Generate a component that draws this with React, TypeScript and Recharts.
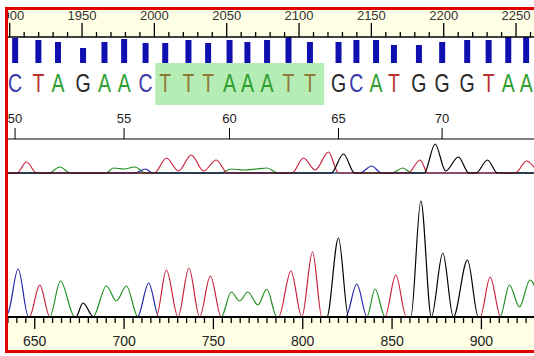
import React from 'react'
import { ComposedChart, Bar, Line, XAxis, YAxis, ReferenceArea, LabelList } from 'recharts'

// base calls, scan position of each call, quality bar height
const bases = ['C', 'T', 'A', 'G', 'A', 'A', 'C', 'T', 'T', 'T', 'A', 'A', 'A', 'T', 'T', 'G', 'C', 'A', 'T', 'G', 'G', 'G', 'T', 'A', 'A']
const baseScan = [639, 652, 663, 677, 689, 700, 712, 723, 736, 747, 759, 769, 780, 792, 804, 820, 830, 841, 851, 865, 878, 892, 904, 915, 925]
const quality = [25, 23, 21, 15, 21, 24, 20, 20, 23, 20, 23, 21, 23, 26, 21, 21, 23, 23, 18, 18, 21, 23, 23, 26, 26]
const firstBase = 50
const hlFirst = 7
const hlLast = 14

const rulerLabels = [1900, 1950, 2000, 2050, 2100, 2150, 2200, 2250]
const scanLabels = [650, 700, 750, 800, 850, 900]

// main trace: [scan, signal]
const mainA = [[630, 0], [658.4, 0], [664.4, 36], [672.4, 0], [682.6, 0], [690.1, 31], [695.7, 16], [701.3, 31], [707.8, 0], [754.4, 0], [760, 25], [764.7, 16], [769.3, 25], [774.9, 12], [779.9, 28], [785.5, 0], [835.9, 0], [840.5, 28], [846.1, 0], [910.4, 0], [915.7, 32], [921.3, 10], [927.2, 37], [932, 20]]
const mainC = [[630, 0], [635, 4], [640.7, 48], [646.5, 0], [707.5, 0], [713.8, 34], [719.5, 0], [824, 0], [830.3, 33], [836, 0], [930, 0]]
const mainG = [[630, 0], [673, 0], [677, 14], [683, 0], [813.5, 0], [820, 79], [825.6, 0], [860.5, 0], [866.1, 116], [872, 0], [878.4, 64], [884.3, 0], [892.2, 57], [898.3, 0], [930, 0]]
const mainT = [[630, 0], [647, 0], [652.8, 32], [658.5, 0], [718, 0], [723.7, 47], [730.2, 0], [736.3, 49], [742.3, 0], [748.3, 41], [754.4, 0], [786.5, 0], [793.4, 46], [799.5, 0], [805.5, 65], [810.7, 0], [846, 0], [852.1, 42], [858, 0], [899.3, 0], [904.9, 40], [910.8, 0], [930, 0]]

// small reference trace
const refA = [[630, 0], [658, 0], [664, 6], [670, 0], [690, 0], [694, 5], [700, 4], [706, 6], [712, 0], [754, 0], [760, 4], [767, 3], [774, 4], [780, 5], [786, 0], [850, 0], [856, 5], [861, 0], [930, 0]]
const refC = [[630, 0], [706, 0], [712, 4], [716, 0], [832, 0], [838.6, 7], [844, 0], [930, 0]]
const refG = [[630, 0], [816, 0], [822.8, 19], [829, 0], [868, 0], [874.1, 29], [880, 2], [887.1, 16], [893, 0], [897, 0], [903.4, 13], [909, 0], [930, 0]]
const refT = [[630, 0], [640, 0], [645.4, 11], [651, 0], [717, 0], [723.7, 15], [730.5, 2], [737.6, 18], [744.5, 2], [751.6, 13], [758, 0], [794, 0], [800.4, 15], [807, 3], [814.4, 21], [820, 0], [859, 0], [865.7, 13], [870, 0], [919, 0], [925.3, 12], [931, 2]]

const traceColor: Record<string, string> = { A: '#209020', C: '#2424B0', G: '#000000', T: '#C8203C' }
const letterColor: Record<string, string> = { A: '#2E9E2E', C: '#3A3AA8', G: '#2A2A2A', T: '#B83232' }
// letters seen through the green selection
const letterColorSel: Record<string, string> = { A: '#2E9E2E', C: '#3A3AA8', G: '#2A2A2A', T: '#8E7A36' }

const pts = (arr: number[][]) => arr.map(([s, v]) => ({ s, v }))
const barData = baseScan.map((s, i) => ({ s, q: quality[i], b: bases[i] }))

const rulerTicks: number[] = []
for (let v = 1900; v <= 2260; v += 10) rulerTicks.push(v)
const scanTicks: number[] = []
for (let v = 630; v <= 930; v += 5) scanTicks.push(v)
const posTicks = baseScan.filter((_, i) => i % 5 === 0)

const hlX1 = (baseScan[hlFirst - 1] + baseScan[hlFirst]) / 2
const hlX2 = (baseScan[hlLast] + baseScan[hlLast + 1]) / 2

const W = 536
const SCAN_DOMAIN = [630, 930]
const font = 'Liberation Sans, Arial, sans-serif'
const cream = '#FFFFE6'

const RulerTick = ({ x, payload }: any) => {
  const major = rulerLabels.includes(payload.value)
  return (
    <g>
      <line x1={x} x2={x} y1={27} y2={major ? 13 : 22} stroke="#000" strokeWidth={1.3} />
      {major && (
        <text x={x} y={9.5} textAnchor="middle" fontSize={13} fontFamily={font} fill="#333">
          {payload.value}
        </text>
      )}
    </g>
  )
}

const LetterLabel = (p: any) => {
  const vb = p.viewBox || p
  const cx = vb.x + vb.width / 2
  const bottom = Math.max(vb.y, vb.y + vb.height)
  const b = p.value
  const i = p.index
  const sel = i >= hlFirst && i <= hlLast
  return (
    <text
      transform={`translate(${cx},${bottom + 29}) scale(0.78,1)`}
      textAnchor="middle"
      fontSize={25}
      fontFamily={font}
      fill={(sel ? letterColorSel : letterColor)[b]}
    >
      {b}
    </text>
  )
}

const ScanTick = ({ x, payload }: any) => {
  const major = scanLabels.includes(payload.value)
  return (
    <g>
      <line x1={x} x2={x} y1={139} y2={major ? 151 : 145} stroke="#000" strokeWidth={1.3} />
      {major && (
        <text x={x} y={168} textAnchor="middle" fontSize={14} fontFamily={font} fill="#222">
          {payload.value}
        </text>
      )}
    </g>
  )
}

const traces = (a: number[][], c: number[][], g: number[][], t: number[][], w: number) =>
  [
    ['A', a],
    ['C', c],
    ['T', t],
    ['G', g],
  ].map(([b, d]: any) => (
    <Line
      key={b}
      data={pts(d)}
      dataKey="v"
      type="monotone"
      stroke={traceColor[b]}
      strokeWidth={w}
      dot={false}
      isAnimationActive={false}
    />
  ))

export default function App() {
  const noMargin = { top: 0, right: 0, bottom: 0, left: 0 }
  return (
    <div style={{ position: 'absolute', left: 0, top: 0, width: 534, height: 356, background: '#fff', fontFamily: font, overflow: 'hidden' }}>
      <div
        style={{
          position: 'absolute',
          left: 5,
          top: 7,
          width: 560,
          height: 340,
          borderLeft: '3px solid #E00000',
          borderTop: '3px solid #E00000',
          borderBottom: '3px solid #E00000',
          borderRight: 'none',
          overflow: 'hidden',
        }}
      >
        {/* ruler background + bottom axis background */}
        <div style={{ position: 'absolute', left: 0, top: 0, width: 560, height: 27, background: cream }} />
        <div style={{ position: 'absolute', left: 0, top: 309, width: 560, height: 31, background: cream }} />

        {/* ruler, quality bars, called bases */}
        <div style={{ position: 'absolute', left: -9, top: 0 }}>
          <ComposedChart width={W} height={96} data={barData} margin={{ top: 0, right: 0, bottom: 1, left: 0 }}>
            <XAxis
              xAxisId="ruler"
              dataKey="r"
              orientation="top"
              type="number"
              domain={[1892.6, 2263.1]}
              allowDataOverflow
              ticks={rulerTicks}
              interval={0}
              height={27}
              tickLine={false}
              tickSize={0}
              tickMargin={0}
              axisLine={{ stroke: '#000', strokeWidth: 1.3 }}
              tick={RulerTick}
            />
            <XAxis xAxisId="scan" type="number" dataKey="s" domain={SCAN_DOMAIN} allowDataOverflow hide />
            <YAxis hide domain={[-42, 26]} allowDataOverflow />
            <ReferenceArea
              xAxisId="scan"
              x1={hlX1}
              x2={hlX2}
              y1={-42}
              y2={0}
              fill="#5CD65C"
              fillOpacity={0.45}
              stroke="none"
            />
            <Bar xAxisId="scan" dataKey="q" fill="#1010B0" barSize={6} isAnimationActive={false}>
              <LabelList dataKey="b" content={LetterLabel} />
            </Bar>
          </ComposedChart>
        </div>

        {/* base position axis + reference trace */}
        <div style={{ position: 'absolute', left: -9, top: 96 }}>
          <ComposedChart width={W} height={72} margin={noMargin}>
            <XAxis
              orientation="top"
              type="number"
              dataKey="s"
              domain={SCAN_DOMAIN}
              allowDataOverflow
              ticks={posTicks}
              interval={0}
              height={33}
              tickSize={11}
              tickMargin={5}
              stroke="#000"
              tick={{ fontSize: 13, fill: '#222', fontFamily: font }}
              tickFormatter={(v: number) => String(firstBase + baseScan.indexOf(v))}
            />
            <YAxis hide domain={[-5, 34]} allowDataOverflow />
            {traces(refA, refC, refG, refT, 1.2)}
          </ComposedChart>
        </div>

        {/* main trace */}
        <div style={{ position: 'absolute', left: -9, top: 168 }}>
          <ComposedChart width={W} height={172} margin={{ top: 7, right: 0, bottom: 0, left: 0 }}>
            <XAxis
              type="number"
              dataKey="s"
              domain={SCAN_DOMAIN}
              allowDataOverflow
              ticks={scanTicks}
              interval={0}
              height={33}
              tickLine={false}
              tickSize={0}
              tickMargin={0}
              axisLine={{ stroke: '#000', strokeWidth: 2 }}
              tick={ScanTick}
            />
            <YAxis hide domain={[0, 132]} allowDataOverflow />
            {traces(mainA, mainC, mainG, mainT, 1.2)}
          </ComposedChart>
        </div>
      </div>
    </div>
  )
}
